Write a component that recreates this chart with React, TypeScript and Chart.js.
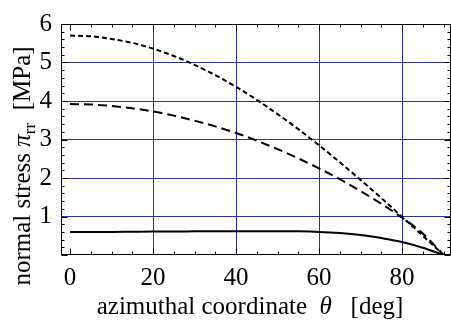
import { useEffect, useRef } from 'react';
import { Chart, registerables } from 'chart.js';

Chart.register(...registerables);

const thetaDeg = [0, 5, 10, 15, 20, 25, 30, 35, 40, 45, 50, 55, 60, 65, 70, 75, 80, 85, 90];
const solidStress = [0.6, 0.6, 0.6, 0.605, 0.61, 0.61, 0.615, 0.62, 0.62, 0.62, 0.62, 0.615, 0.6, 0.57, 0.52, 0.44, 0.34, 0.19, 0];
const longDashStress = [3.92, 3.91, 3.87, 3.81, 3.73, 3.62, 3.49, 3.34, 3.17, 2.97, 2.75, 2.51, 2.25, 1.97, 1.66, 1.33, 0.97, 0.56, 0];
const shortDashStress = [5.7, 5.68, 5.61, 5.51, 5.36, 5.17, 4.94, 4.67, 4.37, 4.03, 3.66, 3.27, 2.85, 2.41, 1.95, 1.48, 0.99, 0.5, 0];
const xTickValues = [0, 20, 40, 60, 80];
const yTickValues = [1, 2, 3, 4, 5, 6];

const FONT = '"Liberation Serif", "Times New Roman", serif';
const GRID = '#30309a';
const FS = 25;

const framePlugin = {
  id: 'frameTicks',
  afterDatasetsDraw(chart: any) {
    const { ctx, chartArea: a, scales } = chart;
    const x = scales.x;
    const y = scales.y;
    const L = Math.round(a.left) + 0.5;
    const R = Math.round(a.right) - 0.5;
    const T = Math.round(a.top) + 0.5;
    const B = Math.round(a.bottom) - 0.5;
    ctx.save();
    ctx.strokeStyle = '#000';
    ctx.lineWidth = 1;
    ctx.beginPath();
    for (let v = 0; v <= 90; v += 5) {
      const px = Math.round(x.getPixelForValue(v)) + 0.5;
      const len = v % 20 === 0 && v <= 80 ? 6 : 3;
      ctx.moveTo(px, B);
      ctx.lineTo(px, B - len);
      ctx.moveTo(px, T);
      ctx.lineTo(px, T + len);
    }
    for (let i = 0; i <= 30; i++) {
      const v = i * 0.2;
      const py = Math.round(y.getPixelForValue(v)) + 0.5;
      const len = i % 5 === 0 ? 6 : 3;
      ctx.moveTo(L, py);
      ctx.lineTo(L + len, py);
      ctx.moveTo(R, py);
      ctx.lineTo(R - len, py);
    }
    ctx.stroke();
    ctx.strokeRect(L, T, R - L, B - T);
    ctx.restore();
  },
  afterDraw(chart: any) {
    const { ctx, scales } = chart;
    ctx.save();
    ctx.fillStyle = '#000';
    ctx.textBaseline = 'alphabetic';
    const normal = `${FS}px ${FONT}`;
    const italic = `italic ${FS}px ${FONT}`;
    // x tick labels
    ctx.font = normal;
    ctx.textAlign = 'center';
    for (const v of xTickValues) {
      ctx.fillText(String(v), scales.x.getPixelForValue(v), 285);
    }
    ctx.textAlign = 'left';
    // x title
    const xParts: [string, string][] = [
      ['azimuthal coordinate  ', normal],
      ['\u03b8', italic],
      ['   [deg]', normal],
    ];
    let w = 0;
    for (const [t, f] of xParts) { ctx.font = f; w += ctx.measureText(t).width; }
    let cx = 250 - w / 2;
    for (const [t, f] of xParts) { ctx.font = f; ctx.fillText(t, cx, 314); cx += ctx.measureText(t).width; }
    // y title
    ctx.translate(30, 166);
    ctx.rotate(-Math.PI / 2);
    const small = `17px ${FONT}`;
    const yParts: [string, string, number][] = [
      ['normal stress ', normal, 0],
      ['\u03c0', italic, 0],
      ['rr', small, 5],
      ['  [MPa]', normal, 0],
    ];
    w = 0;
    for (const [t, f] of yParts) { ctx.font = f; w += ctx.measureText(t).width; }
    let cy = -w / 2;
    for (const [t, f, dy] of yParts) { ctx.font = f; ctx.fillText(t, cy, dy); cy += ctx.measureText(t).width; }
    ctx.restore();
  },
};

export default function App() {
  const ref = useRef<HTMLCanvasElement>(null);
  useEffect(() => {
    if (!ref.current) return;
    const mk = (arr: number[]) => thetaDeg.map((t, i) => ({ x: t, y: arr[i] }));
    const chart = new Chart(ref.current, {
      type: 'line',
      data: {
        datasets: [
          { data: mk(shortDashStress), borderColor: '#000', borderWidth: 2, borderDash: [5, 3], pointRadius: 0, cubicInterpolationMode: 'monotone', fill: false },
          { data: mk(longDashStress), borderColor: '#000', borderWidth: 2, borderDash: [9, 5], pointRadius: 0, cubicInterpolationMode: 'monotone', fill: false },
          { data: mk(solidStress), borderColor: '#000', borderWidth: 2, pointRadius: 0, cubicInterpolationMode: 'monotone', fill: false },
        ],
      },
      options: {
        animation: false,
        responsive: false,
        events: [],
        layout: { padding: { top: 13, right: 0, left: 0, bottom: 0 } },
        plugins: { legend: { display: false }, tooltip: { enabled: false } },
        scales: {
          x: {
            type: 'linear',
            min: -2.17,
            max: 91.8,
            afterBuildTicks: (s: any) => { s.ticks = xTickValues.map((v) => ({ value: v })); },
            afterFit: (s: any) => { s.height = 74; },
            border: { display: false },
            grid: {
              drawTicks: false,
              color: (c: any) => (c.tick && c.tick.value === 0 ? 'rgba(0,0,0,0)' : GRID),
              lineWidth: 1,
            },
            ticks: { display: false },
          },
          y: {
            type: 'linear',
            min: 0,
            max: 6,
            afterBuildTicks: (s: any) => { s.ticks = [0, ...yTickValues].map((v) => ({ value: v })); },
            afterFit: (s: any) => { s.width = 61; },
            border: { display: false },
            grid: {
              drawTicks: false,
              color: (c: any) => (c.tick && (c.tick.value === 0 || c.tick.value === 6) ? 'rgba(0,0,0,0)' : GRID),
              lineWidth: 1,
            },
            ticks: {
              padding: 9,
              color: '#000',
              font: { family: FONT, size: FS },
              callback: (v: any) => (v === 0 ? '' : String(v)),
            },
          },
        },
      },
      plugins: [framePlugin],
    });
    return () => chart.destroy();
  }, []);
  return (
    <div style={{ position: 'fixed', left: 0, top: 0, width: 451, height: 329, background: '#fff' }}>
      <canvas ref={ref} width={451} height={329} style={{ width: 451, height: 329 }} />
    </div>
  );
}
